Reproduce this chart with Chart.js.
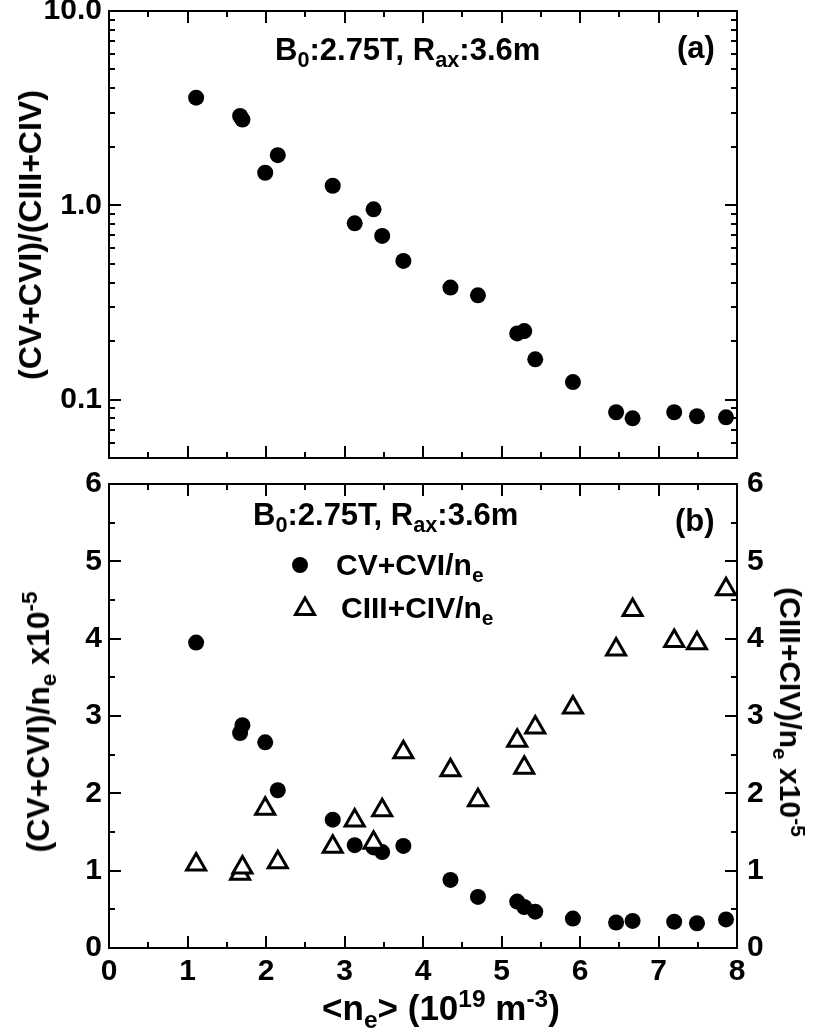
<!DOCTYPE html>
<html>
<head>
<meta charset="utf-8">
<script src="https://cdn.jsdelivr.net/npm/chart.js@4.4.0/dist/chart.umd.min.js"></script>
<style>
  body { margin: 0; background: #fff; }
  #wrap { position: relative; width: 816px; height: 1032px; overflow: hidden;
          font-family: 'Liberation Sans', Arial, sans-serif; font-weight: bold; color: #000; }
  canvas { position: absolute; left: 0; }
  .txt { position: absolute; white-space: nowrap; line-height: 1; font-size: 30px; }
  .txt sub, .txt sup { font-size: 70%; line-height: 0; }
  .note { font-size: 31px; }
  .mid { transform: translateY(-50%); }
  .ctr { transform: translate(-50%, -50%); }
  .rotl { transform: translate(-50%, -50%) rotate(-90deg); font-size: 32px; }
  .rotr { transform: translate(-50%, -50%) rotate(90deg); }
</style>
</head>
<body>
<div id="wrap">
  <canvas id="top-chart" width="816" height="470" style="top:0"></canvas>
  <canvas id="bottom-chart" width="816" height="562" style="top:470px"></canvas>

  <div class="txt note mid" style="left:275px; top:49px">B<sub>0</sub>:2.75T, R<sub>ax</sub>:3.6m</div>
  <div class="txt note mid" style="left:677px; top:47px">(a)</div>
  <div class="txt rotl" style="left:30px; top:235px">(CV+CVI)/(CIII+CIV)</div>

  <div class="txt note mid" style="left:253px; top:514px">B<sub>0</sub>:2.75T, R<sub>ax</sub>:3.6m</div>
  <div class="txt note mid" style="left:675px; top:520px">(b)</div>
  <div class="txt mid" style="left:336px; top:565px">CV+CVI/n<sub>e</sub></div>
  <div class="txt mid" style="left:341px; top:608px">CIII+CIV/n<sub>e</sub></div>
  <div class="txt rotl" style="left:38px; top:722px">(CV+CVI)/n<sub>e</sub> x10<sup>-5</sup></div>
  <div class="txt rotr" style="left:790px; top:712px">(CIII+CIV)/n<sub>e</sub> x10<sup>-5</sup></div>
  <div class="txt ctr" style="left:441px; top:1007px; font-size:35px">&lt;n<sub>e</sub>&gt; (10<sup>19</sup> m<sup>-3</sup>)</div>
</div>

<script>
// line-averaged density, 10^19 m^-3
const density = [1.11, 1.67, 1.70, 1.99, 2.15, 2.85, 3.13, 3.37, 3.48, 3.75, 4.35,
                 4.70, 5.20, 5.29, 5.43, 5.91, 6.46, 6.67, 7.20, 7.49, 7.86];
// (a) (CV+CVI)/(CIII+CIV)
const ratio = [3.58, 2.88, 2.76, 1.47, 1.81, 1.26, 0.807, 0.953, 0.695, 0.517, 0.377,
               0.344, 0.219, 0.225, 0.161, 0.123, 0.086, 0.080, 0.086, 0.082, 0.081];
// (b) CV+CVI/ne  and  CIII+CIV/ne  (x10^-5)
const highIons = [3.95, 2.78, 2.88, 2.66, 2.04, 1.66, 1.33, 1.30, 1.24, 1.32, 0.88,
                  0.66, 0.60, 0.53, 0.47, 0.38, 0.33, 0.35, 0.34, 0.32, 0.37];
const lowIons = [1.08, 0.96, 1.04, 1.80, 1.11, 1.31, 1.65, 1.36, 1.78, 2.53, 2.30,
                 1.91, 2.68, 2.33, 2.85, 3.11, 3.86, 4.37, 3.97, 3.94, 4.64];

// axis ticks
const xMajor = [0, 1, 2, 3, 4, 5, 6, 7, 8];
const xMinor = [0.5, 1.5, 2.5, 3.5, 4.5, 5.5, 6.5, 7.5];
const logMajor = [0.1, 1, 10];
const logMinor = [0.05, 0.06, 0.07, 0.08, 0.09, 0.2, 0.3, 0.4, 0.5, 0.6, 0.7, 0.8, 0.9,
                  2, 3, 4, 5, 6, 7, 8, 9];
const linMajor = [0, 1, 2, 3, 4, 5, 6];
const linMinor = [0.5, 1.5, 2.5, 3.5, 4.5, 5.5];

const tickFont = { family: "'Liberation Sans', Arial, sans-serif", size: 30, weight: 'bold' };
const MAJOR_LEN = 12;
const MINOR_LEN = 6;

function pts(ys) {
  return density.map((x, i) => ({ x, y: ys[i] }));
}

// box around the plot plus inward ticks on all four sides
const frameTicks = {
  id: 'frameTicks',
  beforeDatasetsDraw(chart, args, opts) {
    const { ctx, chartArea: a, scales } = chart;
    const xs = scales.x;
    const ys = scales.y;
    ctx.save();
    ctx.strokeStyle = '#000';
    ctx.lineWidth = 2;
    ctx.strokeRect(a.left, a.top, a.right - a.left, a.bottom - a.top);
    ctx.beginPath();
    const xt = xMajor.map(v => [v, MAJOR_LEN]).concat(xMinor.map(v => [v, MINOR_LEN]));
    xt.forEach(([v, len]) => {
      const px = Math.round(xs.getPixelForValue(v));
      ctx.moveTo(px, a.top); ctx.lineTo(px, a.top + len);
      ctx.moveTo(px, a.bottom); ctx.lineTo(px, a.bottom - len);
    });
    const yt = opts.major.map(v => [v, MAJOR_LEN]).concat(opts.minor.map(v => [v, MINOR_LEN]));
    yt.forEach(([v, len]) => {
      const py = Math.round(ys.getPixelForValue(v));
      ctx.moveTo(a.left, py); ctx.lineTo(a.left + len, py);
      ctx.moveTo(a.right, py); ctx.lineTo(a.right - len, py);
    });
    ctx.stroke();
    ctx.restore();
  }
};

// marker samples for the legend in panel (b)
const legendMarks = {
  id: 'legendMarks',
  afterDatasetsDraw(chart, args, opts) {
    if (!opts.items) return;
    const ctx = chart.ctx;
    opts.items.forEach(it => {
      ctx.save();
      ctx.fillStyle = it.fill;
      ctx.strokeStyle = '#000';
      ctx.lineWidth = it.border;
      Chart.helpers.drawPoint(ctx, { pointStyle: it.style, radius: it.radius, borderWidth: it.border, rotation: 0 }, it.x, it.y);
      ctx.restore();
    });
  }
};

Chart.register(frameTicks, legendMarks);

function fixWidth(w) {
  return function (scale) {
    scale.width = w;
    scale.paddingTop = 0;
    scale.paddingBottom = 0;
  };
}

const circleStyle = { pointStyle: 'circle', pointRadius: 8, backgroundColor: '#000', borderColor: '#000', borderWidth: 0 };
const triangleStyle = { pointStyle: 'triangle', pointRadius: 11, backgroundColor: '#fff', borderColor: '#000', borderWidth: 3 };

document.addEventListener('DOMContentLoaded', () => {
  new Chart(document.getElementById('top-chart'), {
    type: 'scatter',
    data: {
      datasets: [Object.assign({ label: '(CV+CVI)/(CIII+CIV)', data: pts(ratio), clip: false }, circleStyle)]
    },
    options: {
      responsive: false,
      animation: false,
      events: [],
      layout: { padding: { top: 11, right: 79, bottom: 12, left: 0 } },
      plugins: {
        legend: { display: false },
        tooltip: { enabled: false },
        frameTicks: { major: logMajor, minor: logMinor }
      },
      scales: {
        x: { type: 'linear', min: 0, max: 8, display: false },
        y: {
          type: 'logarithmic', min: 0.05, max: 10,
          grid: { display: false, drawTicks: false },
          border: { display: false },
          ticks: { font: tickFont, color: '#000', padding: 7, callback: v => Number(v).toFixed(1) },
          afterBuildTicks: s => { s.ticks = logMajor.map(v => ({ value: v })); },
          afterFit: fixWidth(109)
        }
      }
    }
  });

  new Chart(document.getElementById('bottom-chart'), {
    type: 'scatter',
    data: {
      datasets: [
        Object.assign({ label: 'CIII+CIV/ne', data: pts(lowIons), yAxisID: 'y2', order: 1, clip: false }, triangleStyle),
        Object.assign({ label: 'CV+CVI/ne', data: pts(highIons), yAxisID: 'y', order: 2, clip: false }, circleStyle)
      ]
    },
    options: {
      responsive: false,
      animation: false,
      events: [],
      layout: { padding: { top: 12, right: 0, bottom: 0, left: 0 } },
      plugins: {
        legend: { display: false },
        tooltip: { enabled: false },
        frameTicks: { major: linMajor, minor: linMinor },
        legendMarks: {
          items: [
            { style: 'circle', radius: 8, border: 0, fill: '#000', x: 300, y: 95 },
            { style: 'triangle', radius: 11, border: 3, fill: '#fff', x: 305, y: 139 }
          ]
        }
      },
      scales: {
        x: {
          type: 'linear', min: 0, max: 8,
          grid: { display: false, drawTicks: false },
          border: { display: false },
          ticks: { font: tickFont, color: '#000', padding: 6, stepSize: 1 },
          afterFit: s => { s.height = 84; s.paddingLeft = 0; s.paddingRight = 0; }
        },
        y: {
          type: 'linear', position: 'left', min: 0, max: 6,
          grid: { display: false, drawTicks: false },
          border: { display: false },
          ticks: { font: tickFont, color: '#000', padding: 7, stepSize: 1 },
          afterFit: fixWidth(109)
        },
        y2: {
          type: 'linear', position: 'right', min: 0, max: 6,
          grid: { display: false, drawTicks: false },
          border: { display: false },
          ticks: { font: tickFont, color: '#000', padding: 10, stepSize: 1 },
          afterFit: fixWidth(79)
        }
      }
    }
  });
});
</script>
</body>
</html>
